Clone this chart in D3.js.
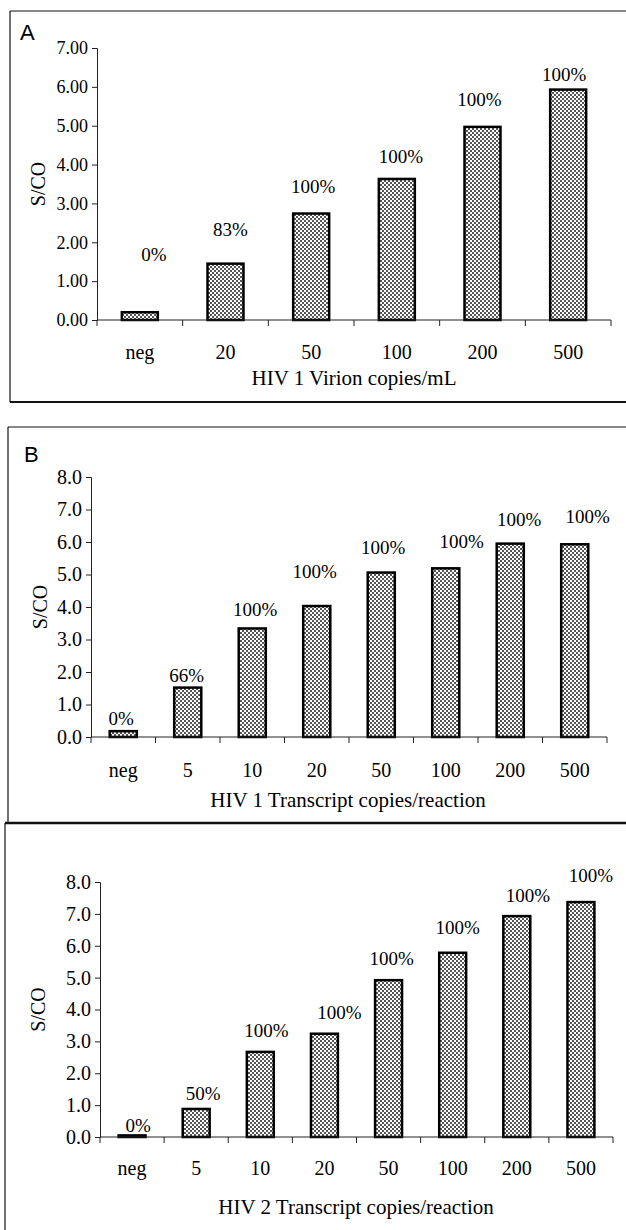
<!DOCTYPE html>
<html>
<head>
<meta charset="utf-8">
<script src="https://cdn.jsdelivr.net/npm/d3@7"></script>
<style>
  body { margin: 0; background: #fff; }
  svg { display: block; }
  text { font-family: "Liberation Serif", "Times New Roman", serif; fill: #000; }
  .tick text { font-family: "Liberation Serif", "Times New Roman", serif; fill: #000; }
</style>
</head>
<body>
<script>
// panel A - HIV 1 virion
var catsA = ["neg", "20", "50", "100", "200", "500"];
var valsA = [0.20, 1.45, 2.74, 3.63, 4.97, 5.93];
var pctA = ["0%", "83%", "100%", "100%", "100%", "100%"];
var pctAtA = [1.69, 2.34, 3.45, 4.22, 5.68, 6.31];   // label heights, S/CO units
var ticksA = [0, 1, 2, 3, 4, 5, 6, 7];

// panel B - HIV 1 transcript
var catsB = ["neg", "5", "10", "20", "50", "100", "200", "500"];
var valsB = [0.18, 1.52, 3.34, 4.03, 5.06, 5.19, 5.95, 5.93];
var pctB = ["0%", "66%", "100%", "100%", "100%", "100%", "100%", "100%"];
var pctAtB = [0.58, 1.91, 3.94, 5.09, 5.85, 6.03, 6.69, 6.79];
var ticksB = [0, 1, 2, 3, 4, 5, 6, 7, 8];

// panel C - HIV 2 transcript
var catsC = ["neg", "5", "10", "20", "50", "100", "200", "500"];
var valsC = [0.05, 0.88, 2.67, 3.24, 4.92, 5.78, 6.93, 7.37];
var pctC = ["0%", "50%", "100%", "100%", "100%", "100%", "100%", "100%"];
var pctAtC = [0.37, 1.36, 3.35, 3.90, 5.60, 6.57, 7.57, 8.21];
var ticksC = [0, 1, 2, 3, 4, 5, 6, 7, 8];

var width = 626, height = 1230;
var serif = '"Liberation Serif", "Times New Roman", serif';

var svg = d3.select("body").append("svg")
    .attr("width", width)
    .attr("height", height);

// stipple fill like the scanned bars
var pat = svg.append("defs").append("pattern")
    .attr("id", "stip")
    .attr("patternUnits", "userSpaceOnUse")
    .attr("width", 4).attr("height", 4);
pat.append("rect").attr("width", 4).attr("height", 4).attr("fill", "#fff");
pat.append("rect").attr("x", 0).attr("y", 0).attr("width", 2).attr("height", 2).attr("fill", "#555");
pat.append("rect").attr("x", 2).attr("y", 2).attr("width", 2).attr("height", 2).attr("fill", "#555");

// frames round the panels
function line(x1, y1, x2, y2, w) {
    svg.append("line")
        .attr("x1", x1).attr("y1", y1).attr("x2", x2).attr("y2", y2)
        .attr("stroke", "#111").attr("stroke-width", w);
}
line(10, 11, 626, 11, 1.2);
line(10, 11, 10, 402, 1.2);
line(10, 402, 626, 402, 2);
line(8, 427, 626, 427, 1.2);
line(8, 427, 8, 823, 1.2);
line(5, 823, 626, 823, 2.5);
line(5, 823, 5, 1230, 1.2);

var panels = [
    { letter: "A", cats: catsA, vals: valsA, pct: pctA, pctAt: pctAtA, ticks: ticksA, fmt: ".2f",
      title: "HIV 1 Virion copies/mL",
      x0: 97, x1: 611, y0: 320, y1: 48, max: 7, tickSize: 18,
      shift: [14, 5, 2, 4, -3, -4], catY: 352, titleY: 378, titleX: 354, ylabX: 38,
      letterX: 20, letterY: 40 },
    { letter: "B", cats: catsB, vals: valsB, pct: pctB, pctAt: pctAtB, ticks: ticksB, fmt: ".1f",
      title: "HIV 1 Transcript copies/reaction",
      x0: 91, x1: 607, y0: 737, y1: 477, max: 8, tickSize: 20,
      shift: [-2, -1, 3, -2, 2, 16, 9, 13], catY: 770, titleY: 800, titleX: 348, ylabX: 40,
      letterX: 24, letterY: 462 },
    { letter: "", cats: catsC, vals: valsC, pct: pctC, pctAt: pctAtC, ticks: ticksC, fmt: ".1f",
      title: "HIV 2 Transcript copies/reaction",
      x0: 100, x1: 613, y0: 1137, y1: 882, max: 8, tickSize: 20,
      shift: [6, 7, 6, 15, 3, 5, 11, 10], catY: 1168, titleY: 1207, titleX: 356, ylabX: 38,
      letterX: 0, letterY: 0 }
];

panels.forEach(function (p) {
    var g = svg.append("g");

    var x = d3.scaleBand()
        .domain(p.cats)
        .range([p.x0, p.x1])
        .paddingInner(0.58)
        .paddingOuter(0.29);

    var y = d3.scaleLinear()
        .domain([0, p.max])
        .range([p.y0, p.y1]);

    // y axis
    var yAxis = g.append("g")
        .attr("transform", "translate(" + p.x0 + ",0)")
        .call(d3.axisLeft(y).tickValues(p.ticks).tickFormat(d3.format(p.fmt)).tickSize(5).tickPadding(4));
    yAxis.attr("font-family", null);
    yAxis.selectAll("text").style("font-size", p.tickSize + "px");
    yAxis.selectAll("line, path").attr("stroke", "#222");

    // bars
    g.selectAll(".bar")
        .data(p.vals)
        .enter().append("rect")
        .attr("class", "bar")
        .attr("x", function (d, i) { return x(p.cats[i]); })
        .attr("width", x.bandwidth())
        .attr("y", function (d) { return y(d); })
        .attr("height", function (d) { return y(0) - y(d); })
        .attr("fill", "url(#stip)")
        .attr("stroke", "#000")
        .attr("stroke-width", 2.5);

    // x axis line and ticks at band edges
    var step = (p.x1 - p.x0) / p.cats.length;
    g.append("line")
        .attr("x1", p.x0).attr("x2", p.x1)
        .attr("y1", y(0)).attr("y2", y(0))
        .attr("stroke", "#222");
    g.selectAll(".xt")
        .data(d3.range(p.cats.length + 1))
        .enter().append("line")
        .attr("x1", function (d) { return p.x0 + d * step; })
        .attr("x2", function (d) { return p.x0 + d * step; })
        .attr("y1", y(0)).attr("y2", y(0) + 6)
        .attr("stroke", "#222");

    g.selectAll(".cat")
        .data(p.cats)
        .enter().append("text")
        .attr("x", function (d) { return x(d) + x.bandwidth() / 2; })
        .attr("y", p.catY)
        .attr("dy", "0.35em")
        .attr("text-anchor", "middle")
        .style("font-family", serif)
        .style("font-size", "20px")
        .text(function (d) { return d; });

    // percentage positives
    g.selectAll(".pct")
        .data(p.pct)
        .enter().append("text")
        .attr("x", function (d, i) { return x(p.cats[i]) + x.bandwidth() / 2 + p.shift[i]; })
        .attr("y", function (d, i) { return y(p.pctAt[i]); })
        .attr("dy", "0.35em")
        .attr("text-anchor", "middle")
        .style("font-family", serif)
        .style("font-size", "19px")
        .text(function (d) { return d; });

    g.append("text")
        .attr("x", p.titleX)
        .attr("y", p.titleY)
        .attr("dy", "0.35em")
        .attr("text-anchor", "middle")
        .style("font-family", serif)
        .style("font-size", "21px")
        .text(p.title);

    g.append("text")
        .attr("transform", "translate(" + p.ylabX + "," + ((p.y0 + p.y1) / 2) + ") rotate(-90)")
        .attr("dy", "0.35em")
        .attr("text-anchor", "middle")
        .style("font-family", serif)
        .style("font-size", "20px")
        .text("S/CO");

    if (p.letter) {
        g.append("text")
            .attr("x", p.letterX)
            .attr("y", p.letterY)
            .style("font-family", '"Liberation Sans", Arial, sans-serif')
            .style("font-size", "22px")
            .text(p.letter);
    }
});
</script>
</body>
</html>
